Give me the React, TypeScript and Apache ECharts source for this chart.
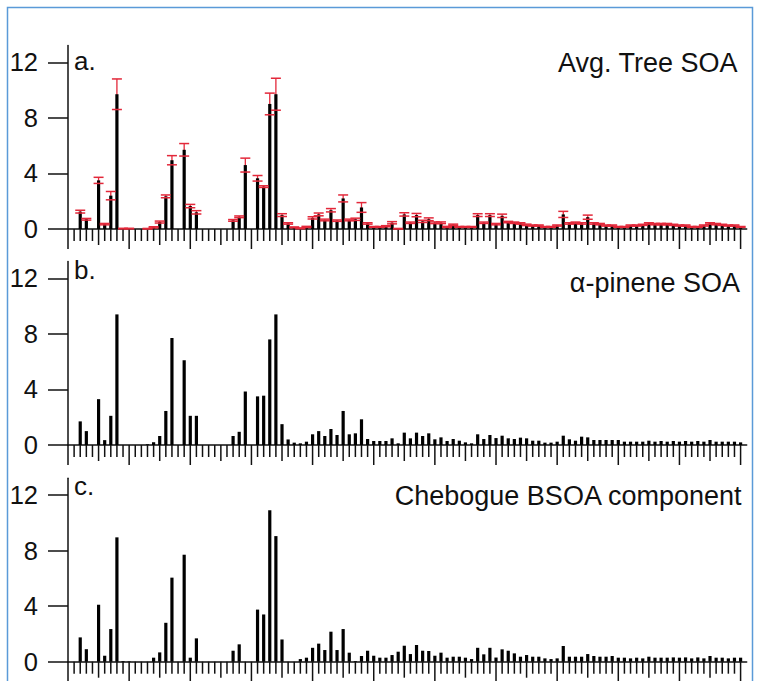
import React, { useEffect, useRef } from "react";
import * as echarts from "echarts";

// m/z values (integer masses) 12..120
const mz = [
  12, 13, 14, 15, 16, 17, 18, 19, 20, 21,
  22, 23, 24, 25, 26, 27, 28, 29, 30, 31,
  32, 33, 34, 35, 36, 37, 38, 39, 40, 41,
  42, 43, 44, 45, 46, 47, 48, 49, 50, 51,
  52, 53, 54, 55, 56, 57, 58, 59, 60, 61,
  62, 63, 64, 65, 66, 67, 68, 69, 70, 71,
  72, 73, 74, 75, 76, 77, 78, 79, 80, 81,
  82, 83, 84, 85, 86, 87, 88, 89, 90, 91,
  92, 93, 94, 95, 96, 97, 98, 99, 100, 101,
  102, 103, 104, 105, 106, 107, 108, 109, 110, 111,
  112, 113, 114, 115, 116, 117, 118, 119, 120,
];

const avgTreeSOA = [
  1.25, 0.7, 0, 3.5, 0.35, 2.4, 9.7, 0.03, 0.03, 0,
  0, 0.02, 0.12, 0.5, 2.35, 4.95, 0, 5.7, 1.65, 1.2,
  0, 0, 0, 0, 0, 0.62, 0.88, 4.6, 0, 3.65,
  3.05, 9.0, 9.7, 1.0, 0.4, 0.12, 0.05, 0.15, 0.8, 1.05,
  0.65, 1.35, 0.6, 2.2, 0.65, 0.7, 1.55, 0.4, 0.15, 0.15,
  0.2, 0.45, 0.02, 1.05, 0.45, 1.0, 0.55, 0.7, 0.45, 0.45,
  0.15, 0.3, 0.15, 0.15, 0.15, 1.0, 0.45, 1.0, 0.35, 0.95,
  0.5, 0.45, 0.4, 0.3, 0.25, 0.25, 0.15, 0.15, 0.25, 1.05,
  0.4, 0.45, 0.4, 0.85, 0.4, 0.35, 0.25, 0.25, 0.15, 0.15,
  0.25, 0.25, 0.3, 0.4, 0.35, 0.35, 0.35, 0.3, 0.25, 0.25,
  0.15, 0.15, 0.25, 0.4, 0.35, 0.3, 0.25, 0.25, 0.15,
];

const avgTreeErr = [
  0.1, 0.06, 0, 0.22, 0.05, 0.3, 1.1, 0.02, 0.02, 0,
  0, 0.02, 0.04, 0.07, 0.1, 0.33, 0, 0.45, 0.12, 0.12,
  0, 0, 0, 0, 0, 0.06, 0.06, 0.5, 0, 0.2,
  0.06, 0.78, 1.15, 0.1, 0.05, 0.03, 0.03, 0.04, 0.08, 0.1,
  0.06, 0.12, 0.05, 0.25, 0.06, 0.08, 0.35, 0.05, 0.03, 0.03,
  0.04, 0.08, 0.02, 0.12, 0.05, 0.12, 0.08, 0.1, 0.06, 0.06,
  0.04, 0.05, 0.03, 0.03, 0.03, 0.1, 0.05, 0.1, 0.05, 0.12,
  0.05, 0.05, 0.05, 0.05, 0.04, 0.04, 0.03, 0.03, 0.04, 0.22,
  0.05, 0.05, 0.05, 0.15, 0.05, 0.05, 0.04, 0.04, 0.03, 0.03,
  0.04, 0.04, 0.04, 0.05, 0.05, 0.05, 0.05, 0.04, 0.04, 0.04,
  0.03, 0.03, 0.04, 0.05, 0.05, 0.04, 0.04, 0.04, 0.03,
];

const alphaPineneSOA = [
  1.7, 1.0, 0, 3.3, 0.35, 2.1, 9.4, 0, 0, 0,
  0, 0.05, 0.2, 0.65, 2.45, 7.7, 0, 6.1, 2.1, 2.1,
  0, 0, 0, 0, 0, 0.65, 0.95, 3.85, 0, 3.5,
  3.55, 7.6, 9.4, 1.5, 0.4, 0.17, 0.12, 0.24, 0.77, 1.0,
  0.65, 1.15, 0.72, 2.45, 0.77, 0.84, 1.85, 0.43, 0.29, 0.29,
  0.29, 0.48, 0.12, 0.89, 0.48, 0.89, 0.65, 0.84, 0.41, 0.55,
  0.29, 0.43, 0.31, 0.19, 0.12, 0.77, 0.43, 0.72, 0.5, 0.67,
  0.48, 0.43, 0.53, 0.48, 0.31, 0.31, 0.17, 0.17, 0.24, 0.67,
  0.41, 0.31, 0.6, 0.55, 0.36, 0.36, 0.36, 0.36, 0.36, 0.24,
  0.24, 0.24, 0.24, 0.31, 0.24, 0.29, 0.24, 0.29, 0.24, 0.29,
  0.24, 0.29, 0.24, 0.36, 0.24, 0.24, 0.24, 0.24, 0.19,
];

const cheboguBSOA = [
  1.75, 0.9, 0, 4.1, 0.43, 2.35, 8.95, 0.05, 0.03, 0,
  0, 0, 0.29, 0.67, 2.8, 6.05, 0, 7.7, 0.29, 1.68,
  0, 0, 0, 0, 0, 0.79, 1.25, 0, 0, 3.75,
  3.4, 10.9, 9.04, 1.6, 0, 0, 0.19, 0.29, 1.0, 1.3,
  0.84, 2.16, 0.84, 2.35, 0.65, 0.05, 0.41, 0.79, 0.43, 0.29,
  0.29, 0.48, 0.72, 1.15, 0.55, 1.2, 0.79, 0.77, 0.43, 0.65,
  0.29, 0.36, 0.36, 0.29, 0.19, 1.0, 0.53, 1.0, 0.3, 0.89,
  0.79, 0.6, 0.36, 0.48, 0.36, 0.36, 0.24, 0.19, 0.24, 1.13,
  0.36, 0.36, 0.36, 0.55, 0.41, 0.36, 0.36, 0.41, 0.29, 0.29,
  0.24, 0.29, 0.24, 0.36, 0.29, 0.29, 0.29, 0.31, 0.29, 0.31,
  0.24, 0.31, 0.24, 0.41, 0.29, 0.29, 0.24, 0.29, 0.29,
];

const yTickValues = [0, 4, 8, 12];
const panelLetters = ["a.", "b.", "c."];
const panelTitles = ["Avg. Tree SOA", "\u03b1-pinene SOA", "Chebogue BSOA component"];

const X_MIN = 10;
const X_MAX = 121;
const Y_MAX = 13.2;

const FONT = "'Liberation Sans', Arial, Helvetica, sans-serif";
const INK = "#111";
const RED = "#e3283a";

// layout (pixels)
const GRID_LEFT = 68;
const GRID_RIGHT = 14.3;
const GRID_HEIGHT = 183.4;
const GRID_TOPS = [45.6, 261.6, 478.3];
const LETTER_Y = [61, 269.5, 486];
const TITLE_Y = [62.5, 283, 496];
const TITLE_RIGHT = [737.5, 740, 741.5];

function buildOption() {
  const series: any[] = [];
  const grids: any[] = [];
  const xAxes: any[] = [];
  const yAxes: any[] = [];
  const panels = [avgTreeSOA, alphaPineneSOA, cheboguBSOA];

  // tick positions along the m/z axis (every integer)
  const tickMz: number[] = [];
  for (let m = X_MIN; m <= 120; m++) tickMz.push(m);

  panels.forEach((vals, i) => {
    grids.push({
      left: GRID_LEFT,
      right: GRID_RIGHT,
      top: GRID_TOPS[i],
      height: GRID_HEIGHT,
      containLabel: false,
    });
    xAxes.push({
      gridIndex: i,
      type: "value",
      min: X_MIN,
      max: X_MAX,
      axisLine: { show: true, onZero: false, lineStyle: { color: INK, width: 1.5 } },
      axisTick: { show: false },
      axisLabel: { show: false },
      splitLine: { show: false },
    });
    yAxes.push({
      gridIndex: i,
      type: "value",
      min: 0,
      max: Y_MAX,
      axisLine: { show: true, lineStyle: { color: INK, width: 1.5 } },
      axisTick: {
        show: true,
        customValues: yTickValues,
        length: 20,
        inside: false,
        lineStyle: { color: INK, width: 1.5 },
      },
      axisLabel: {
        show: true,
        customValues: yTickValues,
        fontSize: 25.5,
        color: "#111",
        margin: 30,
        fontFamily: FONT,
      },
      splitLine: { show: false },
    });

    // x-axis tick marks at every integer m/z
    series.push({
      type: "custom",
      xAxisIndex: i,
      yAxisIndex: i,
      clip: false,
      silent: true,
      z: 1,
      data: tickMz.map((m) => [m, 0]),
      encode: { x: 0, y: 1 },
      renderItem: (params: any, api: any) => {
        const m = api.value(0);
        const p = api.coord([m, 0]);
        const len = m % 10 === 0 ? 20 : m % 5 === 0 ? 16 : 12;
        return {
          type: "line",
          shape: { x1: p[0], y1: p[1], x2: p[0], y2: p[1] + len },
          style: { stroke: INK, lineWidth: 1.5 },
        };
      },
    });

    if (i === 0) {
      // error bar stems (behind bars)
      series.push({
        type: "custom",
        xAxisIndex: i,
        yAxisIndex: i,
        clip: false,
        silent: true,
        z: 2,
        data: mz.map((m, k) => [m, avgTreeSOA[k], avgTreeErr[k]]),
        encode: { x: 0, y: 1 },
        renderItem: (params: any, api: any) => {
          const m = api.value(0);
          const v = api.value(1);
          const e = api.value(2);
          if (!(v > 0 || e > 0)) return null;
          const top = api.coord([m, v + e]);
          const bot = api.coord([m, Math.max(v - e, 0)]);
          return {
            type: "line",
            shape: { x1: top[0], y1: top[1], x2: bot[0], y2: bot[1] },
            style: { stroke: RED, lineWidth: 1.3 },
          };
        },
      });
    }

    series.push({
      type: "bar",
      xAxisIndex: i,
      yAxisIndex: i,
      silent: true,
      z: 3,
      barWidth: 3.2,
      itemStyle: { color: "#000" },
      data: mz.map((m, k) => [m, vals[k]]),
    });

    if (i === 0) {
      // error bar caps (on top)
      series.push({
        type: "custom",
        xAxisIndex: i,
        yAxisIndex: i,
        clip: false,
        silent: true,
        z: 4,
        data: mz.map((m, k) => [m, avgTreeSOA[k], avgTreeErr[k]]),
        encode: { x: 0, y: 1 },
        renderItem: (params: any, api: any) => {
          const m = api.value(0);
          const v = api.value(1);
          const e = api.value(2);
          if (!(v > 0 || e > 0)) return null;
          const top = api.coord([m, v + e]);
          const bot = api.coord([m, Math.max(v - e, 0)]);
          const hw = 5;
          return {
            type: "group",
            children: [
              {
                type: "line",
                shape: { x1: top[0] - hw, y1: top[1], x2: top[0] + hw, y2: top[1] },
                style: { stroke: RED, lineWidth: 1.5 },
              },
              {
                type: "line",
                shape: { x1: bot[0] - hw, y1: bot[1], x2: bot[0] + hw, y2: bot[1] },
                style: { stroke: RED, lineWidth: 1.5 },
              },
            ],
          };
        },
      });
    }
  });

  const graphics: any[] = [
    {
      type: "rect",
      shape: { x: 7.5, y: 7.5, width: 745, height: 700 },
      style: { fill: "none", stroke: "#5a9ad8", lineWidth: 1.5 },
      silent: true,
      z: 0,
    },
  ];
  panelLetters.forEach((t, i) => {
    graphics.push({
      type: "text",
      x: 74,
      y: LETTER_Y[i],
      style: {
        text: t,
        font: `26px ${FONT}`,
        fill: "#111",
        textAlign: "left",
        textVerticalAlign: "middle",
      },
      silent: true,
    });
  });
  panelTitles.forEach((t, i) => {
    graphics.push({
      type: "text",
      x: TITLE_RIGHT[i],
      y: TITLE_Y[i],
      style: {
        text: t,
        font: `27px ${FONT}`,
        fill: "#111",
        textAlign: "right",
        textVerticalAlign: "middle",
      },
      silent: true,
    });
  });

  return {
    animation: false,
    backgroundColor: "#ffffff",
    grid: grids,
    xAxis: xAxes,
    yAxis: yAxes,
    series,
    graphic: graphics,
  };
}

export default function App() {
  const ref = useRef<HTMLDivElement>(null);
  useEffect(() => {
    if (!ref.current) return;
    const chart = echarts.init(ref.current, null, { renderer: "svg" });
    chart.setOption(buildOption());
    return () => {
      chart.dispose();
    };
  }, []);
  return (
    <div
      ref={ref}
      style={{
        position: "fixed",
        left: 0,
        top: 0,
        width: 761,
        height: 681,
        background: "#fff",
      }}
    />
  );
}
